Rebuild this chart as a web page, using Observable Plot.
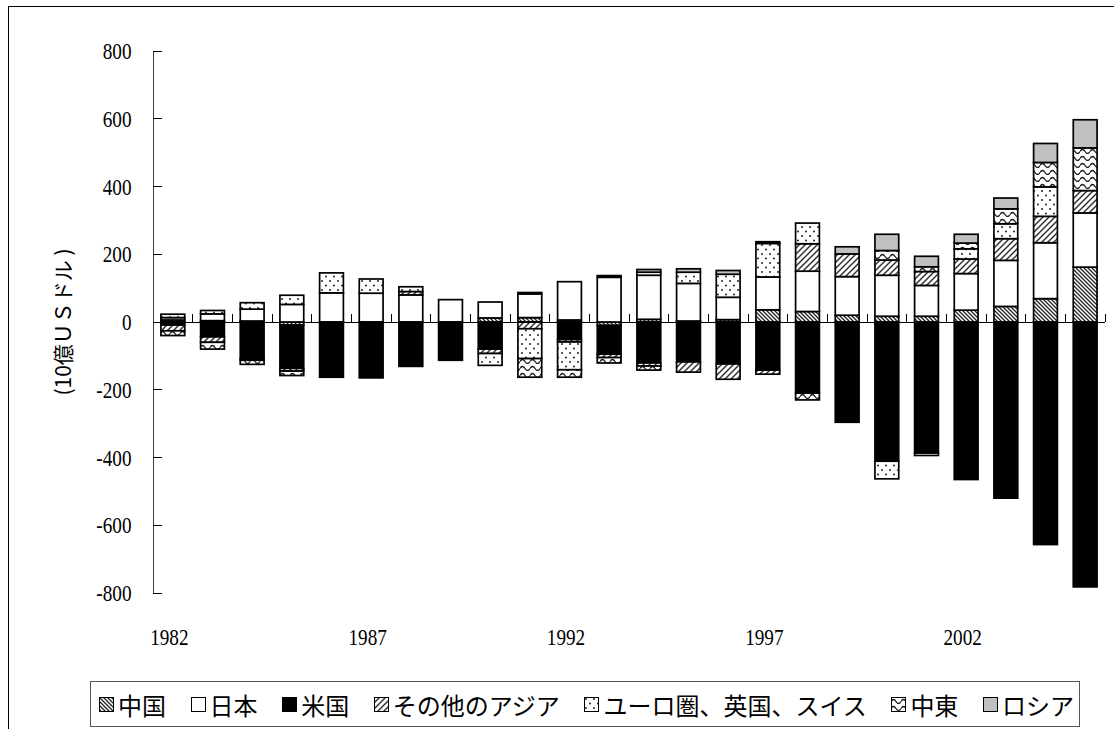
<!DOCTYPE html>
<html><head><meta charset="utf-8">
<script src="https://cdn.jsdelivr.net/npm/d3@7"></script>
<script src="https://cdn.jsdelivr.net/npm/@observablehq/plot@0.6"></script>
<style>
body{margin:0;background:#fff;}
#wrap{position:relative;width:1114px;height:729px;overflow:hidden;background:#fff;}
#frame{position:absolute;left:8px;top:6px;width:1200px;height:800px;border-left:1px solid #000;border-top:1px solid #000;}
#chart{position:absolute;left:0;top:0;}
#ylabel{position:absolute;left:62px;top:322px;transform:translate(-50%,-50%) rotate(-90deg);font:21px "Noto Sans CJK JP";white-space:nowrap;color:#000;}
#legend{position:absolute;left:90px;top:681px;width:990px;height:46px;border:1px solid #555;box-sizing:border-box;display:flex;align-items:center;justify-content:space-between;padding:0 5px 0 8px;font:24px "Noto Sans CJK JP";color:#000;background:#fff;}
.item{display:flex;align-items:center;white-space:nowrap;}
.item svg{margin-right:4px;}
</style></head>
<body>
<svg width="0" height="0" style="position:absolute">
<defs>
<pattern id="pChina" patternUnits="userSpaceOnUse" width="4" height="4">
  <rect width="4" height="4" fill="#fff"/>
  <path d="M-1,-1L5,5M-1,3L1,5M3,-1L5,1" stroke="#222" stroke-width="1.3"/>
</pattern>
<pattern id="pAsia" patternUnits="userSpaceOnUse" width="6" height="6">
  <rect width="6" height="6" fill="#fff"/>
  <path d="M-1,7L7,-1M-1,1L1,-1M5,7L7,5" stroke="#333" stroke-width="1.5"/>
</pattern>
<pattern id="pEuro" patternUnits="userSpaceOnUse" width="8" height="9">
  <rect width="8" height="9" fill="#fff"/>
  <circle cx="2" cy="2" r="1" fill="#222"/>
  <circle cx="6" cy="6.5" r="1" fill="#222"/>
</pattern>
<pattern id="pME" patternUnits="userSpaceOnUse" width="10" height="7">
  <rect width="10" height="7" fill="#fff"/>
  <path d="M0,4.5 Q2.5,0.5 5,4.5 T10,4.5" fill="none" stroke="#222" stroke-width="1.4"/>
</pattern>
</defs>
</svg>
<div id="wrap">
  <div id="frame"></div>
  <div id="chart"></div>
  <div id="ylabel">(10億ＵＳドル )</div>
  <div id="legend"></div>
</div>
<script>
const years = ["1982","1983","1984","1985","1986","1987","1988","1989","1990","1991","1992","1993","1994","1995","1996","1997","1998","1999","2000","2001","2002","2003","2004","2005"];
const labeledYears = ["1982","1987","1992","1997","2002"];
const yTicks = [-800,-600,-400,-200,0,200,400,600,800];
const seriesNames = ["中国","日本","米国","その他のアジア","ユーロ圏、英国、スイス","中東","ロシア"];
const china      = [6,4,3,-9,0,0,0,0,12,13,6,-10,8,3,7,36,31,20,17,17,35,46,69,162];
const japan      = [7,20,35,52,86,85,80,66,47,70,113,132,130,111,66,97,119,114,121,91,108,136,165,160];
const us         = [-9,-44,-108,-128,-163,-165,-131,-113,-80,4,-52,-85,-121,-118,-124,-142,-210,-296,-411,-387,-465,-520,-657,-782];
const otherAsia  = [-17,-16,-5,-8,0,0,10,0,-13,-20,-7,-10,-9,-30,-45,-12,81,67,45,41,43,64,78,66];
const euro       = [10,10,19,27,59,42,14,0,-35,-88,-82,5,9,33,68,99,61,0,-52,-7,30,44,87,0];
const middleEast = [-14,-20,-12,-13,0,0,0,0,0,-55,-22,-16,-12,0,0,5,-20,0,28,14,17,44,72,126];
const russia     = [0,0,0,0,0,0,0,0,0,0,0,0,8,10,11,0,0,21,48,31,26,32,56,83];
const seriesValues = [china, japan, us, otherAsia, euro, middleEast, russia];
const fills = ["url(#pChina)","#fff","#000","url(#pAsia)","url(#pEuro)","url(#pME)","#c0c0c0"];

const fillOf = Object.fromEntries(seriesNames.map((s,i)=>[s,fills[i]]));
const data = [];
seriesNames.forEach((s,i)=>years.forEach((yr,j)=>{const v=seriesValues[i][j]; if(v!==0) data.push({year:yr,series:s,value:v});}));

const chart = Plot.plot({
  width:1114, height:660,
  marginLeft:153, marginRight:9, marginTop:51, marginBottom:67,
  style:{fontFamily:"Liberation Serif", fontSize:"24px", background:"transparent", overflow:"visible", color:"#000"},
  x:{domain:years, paddingInner:0.4, paddingOuter:0.2, align:0.5, round:false, axis:null},
  y:{domain:[-800,800], axis:null},
  color:{type:"identity"},
  marks:[
    Plot.barY(data,{x:"year", y:"value", fill:d=>fillOf[d.series], stroke:"#000", strokeWidth:1.7}),
    Plot.ruleY([0],{stroke:"#000", strokeWidth:1}),
    Plot.text(yTicks,{y:d=>d, text:d=>String(d), frameAnchor:"left", textAnchor:"end", dx:-22, fontSize:24, fontFamily:"Liberation Serif"}),
    Plot.text(labeledYears,{x:d=>d, text:d=>d, frameAnchor:"bottom", lineAnchor:"middle", dy:44, dx:-4, fontSize:24, fontFamily:"Liberation Serif"})
  ]
});
document.getElementById("chart").appendChild(chart);

const svg = d3.select(chart);
svg.selectAll("text").each(function(){
  const len = this.getComputedTextLength();
  if (len > 0) d3.select(this).attr("textLength", len*0.8).attr("lengthAdjust","spacingAndGlyphs");
});

// axis lines and inside tick marks using Plot's scales
const xs = chart.scale("x"), ys = chart.scale("y");
const g = svg.append("g").attr("stroke","#000").attr("stroke-width",1).attr("shape-rendering","crispEdges");
g.append("line").attr("x1",153).attr("x2",153).attr("y1",ys.apply(800)).attr("y2",ys.apply(-800)).attr("stroke","#404040");
yTicks.forEach(v=>g.append("line").attr("x1",153).attr("x2",162).attr("y1",ys.apply(v)).attr("y2",ys.apply(v)));
const y0 = ys.apply(0);
const gap = (xs.step - xs.bandwidth)/2;
years.forEach(yr=>{
  const bx = xs.apply(yr) + xs.bandwidth + gap;
  g.append("line").attr("x1",bx).attr("x2",bx).attr("y1",y0).attr("y2",y0-8);
});

// legend
const leg = document.getElementById("legend");
seriesNames.forEach((s,i)=>{
  const it = document.createElement("div"); it.className="item";
  it.innerHTML = `<svg width="15" height="15"><rect x="0.5" y="0.5" width="14" height="14" fill="${fills[i]}" stroke="#000" stroke-width="1"/></svg><span>${s}</span>`;
  leg.appendChild(it);
});
</script>
</body></html>
